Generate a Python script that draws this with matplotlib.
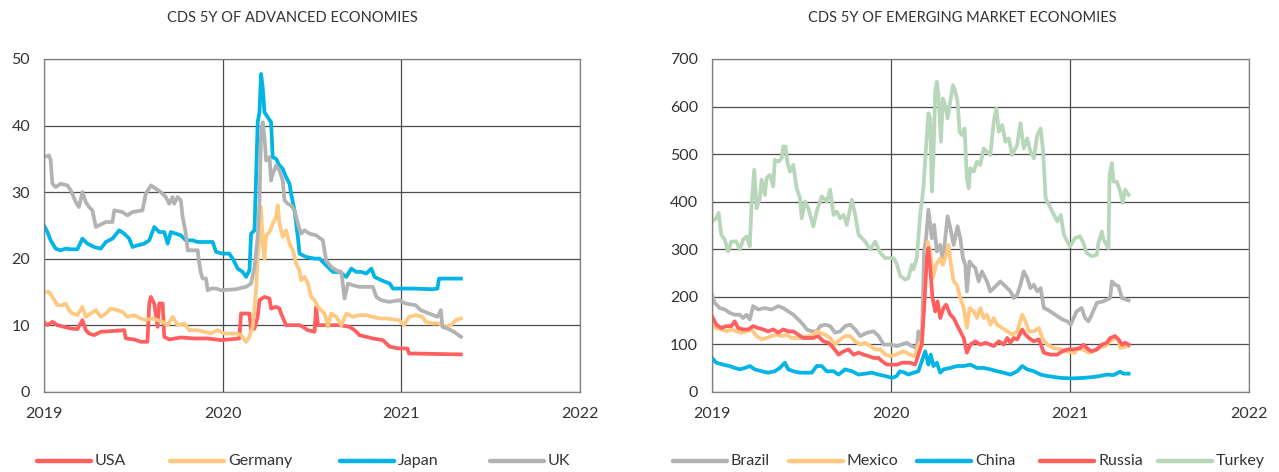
import matplotlib
matplotlib.use("Agg")
import matplotlib.pyplot as plt
from matplotlib.lines import Line2D

# ---- advanced economies (dates as decimal years) ----
usa_t = [2019.000, 2019.019, 2019.047, 2019.075, 2019.112, 2019.150, 2019.187, 2019.215, 2019.234, 2019.252,
         2019.280, 2019.318, 2019.374, 2019.449, 2019.458, 2019.505, 2019.542, 2019.579, 2019.589, 2019.598,
         2019.617, 2019.636, 2019.645, 2019.664, 2019.673, 2019.701, 2019.766, 2019.841, 2019.916, 2019.991,
         2020.093, 2020.103, 2020.150, 2020.159, 2020.178, 2020.196, 2020.206, 2020.234, 2020.262, 2020.271,
         2020.299, 2020.318, 2020.327, 2020.355, 2020.430, 2020.449, 2020.477, 2020.514, 2020.523, 2020.533,
         2020.579, 2020.654, 2020.710, 2020.738, 2020.766, 2020.841, 2020.897, 2020.935, 2020.987, 2021.034,
         2021.043, 2021.333]
usa_v = [10.5, 10, 10.5, 10, 9.75, 9.5, 9.4, 10.75, 9.25, 8.75,
         8.5, 9, 9.1, 9.25, 8, 7.85, 7.5, 7.5, 13.25, 14.25,
         13.25, 9.75, 13.25, 13.25, 8.25, 7.85, 8.15, 8, 8, 7.75,
         8, 11.75, 11.75, 9.25, 9.5, 11.25, 13.75, 14.25, 14, 12.5,
         12.75, 12.5, 11.75, 10, 10, 9.75, 9.25, 9, 12.75, 10,
         10, 10, 9.75, 9.25, 8.5, 8, 7.75, 6.75, 6.5, 6.5,
         5.75, 5.6]

ger_t = [2019.000, 2019.028, 2019.047, 2019.075, 2019.103, 2019.121, 2019.140, 2019.159, 2019.187, 2019.215,
         2019.234, 2019.262, 2019.290, 2019.318, 2019.346, 2019.374, 2019.411, 2019.439, 2019.467, 2019.505,
         2019.542, 2019.570, 2019.607, 2019.636, 2019.664, 2019.692, 2019.720, 2019.748, 2019.785, 2019.813,
         2019.860, 2019.897, 2019.935, 2019.972, 2020.009, 2020.037, 2020.075, 2020.103, 2020.131, 2020.150,
         2020.168, 2020.187, 2020.196, 2020.206, 2020.215, 2020.224, 2020.234, 2020.243, 2020.262, 2020.280,
         2020.299, 2020.308, 2020.318, 2020.336, 2020.355, 2020.374, 2020.393, 2020.411, 2020.430, 2020.439,
         2020.458, 2020.477, 2020.495, 2020.514, 2020.533, 2020.551, 2020.570, 2020.589, 2020.607, 2020.636,
         2020.664, 2020.692, 2020.729, 2020.766, 2020.804, 2020.841, 2020.879, 2020.916, 2020.987, 2021.015,
         2021.043, 2021.080, 2021.118, 2021.136, 2021.174, 2021.211, 2021.239, 2021.277, 2021.305, 2021.333]
ger_v = [15, 15, 14.25, 13, 13, 13.25, 12.25, 11.75, 11.5, 12.75,
         11.25, 11.75, 12.25, 11.25, 11.75, 12.5, 12.25, 12, 11.25, 11.5,
         11, 10.75, 11, 10.75, 10.5, 10, 11.25, 10, 10.25, 9.25,
         9.25, 9, 8.75, 9.25, 8.75, 8.75, 8.75, 8.5, 7.5, 8.25,
         9.75, 15.25, 20.25, 23.25, 27.75, 22.25, 20, 23.5, 24, 25.25,
         26.25, 28, 25.25, 23.25, 24.25, 22.25, 21.25, 19.25, 18.25, 16.75,
         17.25, 16.25, 14.25, 13.75, 12.75, 12.25, 11.75, 9.75, 11.75, 11.25,
         10, 11.75, 11.25, 11.5, 11.5, 11.25, 11, 11, 10.75, 10,
         11.25, 11.5, 11.25, 10.5, 10.25, 10.25, 9.75, 10, 10.75, 11]

jpn_t = [2019.000, 2019.019, 2019.037, 2019.065, 2019.093, 2019.121, 2019.150, 2019.187, 2019.215, 2019.243,
         2019.280, 2019.318, 2019.346, 2019.383, 2019.421, 2019.449, 2019.477, 2019.495, 2019.523, 2019.561,
         2019.589, 2019.617, 2019.645, 2019.673, 2019.692, 2019.710, 2019.738, 2019.766, 2019.794, 2019.832,
         2019.860, 2019.944, 2019.963, 2020.000, 2020.037, 2020.056, 2020.084, 2020.112, 2020.131, 2020.150,
         2020.159, 2020.178, 2020.187, 2020.196, 2020.206, 2020.215, 2020.224, 2020.234, 2020.252, 2020.271,
         2020.280, 2020.299, 2020.318, 2020.336, 2020.355, 2020.374, 2020.383, 2020.402, 2020.421, 2020.430,
         2020.467, 2020.514, 2020.542, 2020.579, 2020.617, 2020.654, 2020.692, 2020.720, 2020.748, 2020.776,
         2020.804, 2020.832, 2020.850, 2020.888, 2020.935, 2020.953, 2020.987, 2021.062, 2021.174, 2021.202,
         2021.211, 2021.333]
jpn_v = [25, 24, 22.75, 21.5, 21.25, 21.5, 21.4, 21.4, 23, 22.25,
         21.75, 21.5, 22.5, 23, 24.25, 23.75, 23, 21.75, 22, 22.25,
         22.75, 24.75, 24, 24, 22.25, 24, 23.75, 23.5, 22.75, 22.75,
         22.5, 22.5, 21, 20.75, 20.75, 20, 18.5, 18, 17.25, 18.25,
         23.75, 24.25, 32.25, 40.5, 42, 47.75, 45.75, 42, 41.25, 40.5,
         35.25, 35, 34, 33.5, 32.25, 31.25, 29.75, 27.25, 23.25, 20.75,
         20.25, 20, 20, 19, 18, 18, 17.25, 18.5, 18, 18,
         17.75, 18.5, 17.25, 16.75, 16.25, 15.5, 15.5, 15.5, 15.4, 15.5,
         17, 17]

uk_t = [2019.000, 2019.028, 2019.037, 2019.047, 2019.065, 2019.093, 2019.131, 2019.150, 2019.178, 2019.196,
        2019.215, 2019.234, 2019.252, 2019.271, 2019.290, 2019.327, 2019.346, 2019.383, 2019.393, 2019.439,
        2019.467, 2019.495, 2019.551, 2019.570, 2019.598, 2019.626, 2019.654, 2019.682, 2019.701, 2019.720,
        2019.729, 2019.748, 2019.766, 2019.776, 2019.794, 2019.804, 2019.860, 2019.869, 2019.879, 2019.888,
        2019.907, 2019.916, 2019.935, 2019.963, 2019.991, 2020.075, 2020.103, 2020.131, 2020.159, 2020.178,
        2020.196, 2020.206, 2020.215, 2020.224, 2020.234, 2020.243, 2020.262, 2020.271, 2020.280, 2020.299,
        2020.318, 2020.336, 2020.346, 2020.364, 2020.383, 2020.402, 2020.421, 2020.439, 2020.458, 2020.486,
        2020.523, 2020.561, 2020.579, 2020.607, 2020.636, 2020.664, 2020.682, 2020.701, 2020.729, 2020.766,
        2020.841, 2020.860, 2020.888, 2020.931, 2020.987, 2021.024, 2021.080, 2021.108, 2021.155, 2021.202,
        2021.221, 2021.230, 2021.258, 2021.295, 2021.333]
uk_v = [35.25, 35.5, 34.8, 31.25, 30.75, 31.25, 31, 30.25, 28.5, 27.75,
        30, 28.5, 27.75, 27.25, 24.75, 25.25, 25.5, 25.5, 27.25, 27,
        26.5, 27, 27.25, 29.75, 31, 30.5, 30, 29.25, 28.25, 29.25,
        28.25, 29.25, 28.75, 26.25, 23.75, 21.25, 21.25, 19.25, 17.75, 17,
        17, 15.25, 15.5, 15.5, 15.25, 15.4, 15.6, 15.75, 16.25, 18.75,
        23.25, 28.25, 39.25, 40.5, 38.25, 34.75, 35.25, 31.75, 32.75, 34,
        33.25, 31.75, 28.75, 28.25, 28, 27.25, 25.25, 23.75, 24.25, 23.75,
        23.5, 22.75, 19.75, 18.75, 18.25, 18, 14, 16.25, 16, 15.75,
        15.75, 14.25, 13.75, 13.5, 13.75, 13.25, 13, 12.25, 11.75, 11.25,
        12.25, 9.75, 9.5, 9, 8.25]

# ---- emerging market economies ----
bra_t = [2019.000, 2019.015, 2019.043, 2019.071, 2019.099, 2019.127, 2019.155, 2019.174, 2019.193, 2019.211,
         2019.230, 2019.258, 2019.295, 2019.333, 2019.370, 2019.398, 2019.426, 2019.454, 2019.482, 2019.510,
         2019.529, 2019.557, 2019.585, 2019.604, 2019.632, 2019.660, 2019.688, 2019.716, 2019.744, 2019.772,
         2019.800, 2019.828, 2019.865, 2019.903, 2019.931, 2019.959, 2019.996, 2020.034, 2020.088, 2020.116,
         2020.144, 2020.153, 2020.172, 2020.185, 2020.196, 2020.209, 2020.228, 2020.241, 2020.256, 2020.275,
         2020.290, 2020.303, 2020.316, 2020.331, 2020.350, 2020.372, 2020.387, 2020.402, 2020.415, 2020.424,
         2020.439, 2020.452, 2020.471, 2020.490, 2020.508, 2020.536, 2020.555, 2020.574, 2020.593, 2020.611,
         2020.630, 2020.649, 2020.667, 2020.686, 2020.705, 2020.723, 2020.742, 2020.761, 2020.779, 2020.798,
         2020.817, 2020.836, 2020.854, 2020.873, 2020.901, 2020.929, 2020.957, 2020.985, 2021.004, 2021.037,
         2021.065, 2021.084, 2021.103, 2021.121, 2021.150, 2021.187, 2021.224, 2021.234, 2021.252, 2021.271,
         2021.290, 2021.327]
bra_v = [204, 187, 176, 173, 166, 162, 162, 155, 162, 152,
         180, 173, 176, 173, 180, 176, 169, 162, 152, 141,
         131, 127, 127, 138, 141, 138, 124, 127, 138, 141,
         131, 117, 124, 127, 117, 99, 99, 96, 103, 96,
         92, 127, 106, 295, 323, 383, 323, 351, 295, 309,
         274, 323, 369, 345, 309, 348, 323, 281, 267, 211,
         274, 267, 260, 232, 253, 232, 211, 218, 225, 232,
         225, 218, 211, 197, 204, 225, 253, 239, 218, 225,
         211, 218, 176, 173, 166, 159, 152, 148, 141, 169,
         176, 155, 148, 162, 187, 190, 197, 232, 225, 222,
         197, 192]

mex_t = [2019.000, 2019.024, 2019.052, 2019.080, 2019.108, 2019.136, 2019.164, 2019.193, 2019.221, 2019.249,
         2019.277, 2019.305, 2019.333, 2019.361, 2019.389, 2019.417, 2019.445, 2019.473, 2019.501, 2019.529,
         2019.557, 2019.585, 2019.604, 2019.632, 2019.660, 2019.688, 2019.716, 2019.744, 2019.772, 2019.800,
         2019.828, 2019.856, 2019.884, 2019.912, 2019.940, 2019.968, 2019.996, 2020.024, 2020.052, 2020.069,
         2020.107, 2020.135, 2020.153, 2020.172, 2020.191, 2020.204, 2020.219, 2020.234, 2020.252, 2020.275,
         2020.290, 2020.308, 2020.321, 2020.335, 2020.350, 2020.368, 2020.387, 2020.406, 2020.424, 2020.439,
         2020.462, 2020.480, 2020.499, 2020.518, 2020.536, 2020.555, 2020.574, 2020.593, 2020.621, 2020.649,
         2020.677, 2020.705, 2020.733, 2020.751, 2020.770, 2020.798, 2020.826, 2020.845, 2020.873, 2020.910,
         2020.948, 2020.976, 2021.028, 2021.037, 2021.075, 2021.103, 2021.131, 2021.159, 2021.196, 2021.224,
         2021.252, 2021.271, 2021.280, 2021.327]
mex_v = [138, 134, 131, 127, 131, 127, 124, 127, 131, 117,
         110, 113, 117, 120, 117, 120, 113, 113, 113, 117,
         117, 127, 124, 120, 113, 99, 110, 117, 117, 106,
         99, 103, 96, 89, 89, 78, 75, 78, 82, 85,
         78, 75, 99, 106, 225, 316, 295, 239, 267, 281,
         267, 288, 309, 267, 232, 225, 197, 176, 134, 176,
         169, 155, 176, 155, 162, 141, 155, 141, 134, 127,
         120, 127, 162, 148, 127, 127, 134, 113, 99, 92,
         89, 85, 82, 89, 89, 82, 85, 92, 96, 106,
         113, 110, 92, 96]

chn_t = [2019.000, 2019.024, 2019.062, 2019.099, 2019.127, 2019.155, 2019.183, 2019.211, 2019.239, 2019.277,
         2019.314, 2019.351, 2019.379, 2019.407, 2019.426, 2019.454, 2019.492, 2019.557, 2019.585, 2019.613,
         2019.641, 2019.679, 2019.707, 2019.744, 2019.781, 2019.819, 2019.893, 2019.931, 2019.968, 2020.006,
         2020.032, 2020.050, 2020.079, 2020.097, 2020.125, 2020.153, 2020.178, 2020.191, 2020.200, 2020.209,
         2020.222, 2020.237, 2020.256, 2020.275, 2020.293, 2020.331, 2020.368, 2020.406, 2020.443, 2020.480,
         2020.518, 2020.555, 2020.593, 2020.630, 2020.667, 2020.705, 2020.733, 2020.761, 2020.798, 2020.836,
         2020.873, 2020.948, 2021.004, 2021.075, 2021.131, 2021.168, 2021.206, 2021.243, 2021.280, 2021.299,
         2021.327]
chn_v = [71, 61, 57, 54, 50, 47, 50, 54, 47, 43,
         40, 43, 50, 61, 47, 43, 40, 40, 54, 54,
         43, 43, 36, 47, 43, 36, 40, 36, 33, 29,
         33, 43, 40, 36, 40, 43, 71, 85, 71, 57,
         78, 54, 61, 40, 47, 50, 54, 54, 57, 50,
         50, 47, 43, 40, 36, 43, 54, 47, 43, 36,
         33, 29, 28, 29, 31, 33, 36, 35, 42, 38,
         38]

rus_t = [2019.000, 2019.024, 2019.052, 2019.080, 2019.108, 2019.127, 2019.146, 2019.174, 2019.202, 2019.230,
         2019.258, 2019.286, 2019.314, 2019.342, 2019.370, 2019.398, 2019.426, 2019.454, 2019.482, 2019.510,
         2019.538, 2019.566, 2019.594, 2019.622, 2019.650, 2019.679, 2019.707, 2019.735, 2019.763, 2019.791,
         2019.819, 2019.847, 2019.875, 2019.903, 2019.931, 2019.950, 2019.978, 2020.006, 2020.034, 2020.062,
         2020.107, 2020.135, 2020.159, 2020.172, 2020.187, 2020.200, 2020.209, 2020.219, 2020.232, 2020.247,
         2020.260, 2020.275, 2020.293, 2020.308, 2020.331, 2020.350, 2020.368, 2020.387, 2020.406, 2020.424,
         2020.443, 2020.471, 2020.499, 2020.527, 2020.555, 2020.574, 2020.602, 2020.630, 2020.649, 2020.667,
         2020.686, 2020.705, 2020.733, 2020.751, 2020.770, 2020.798, 2020.826, 2020.854, 2020.892, 2020.929,
         2020.957, 2020.985, 2021.019, 2021.056, 2021.075, 2021.103, 2021.121, 2021.150, 2021.178, 2021.206,
         2021.224, 2021.252, 2021.271, 2021.290, 2021.308, 2021.327]
rus_v = [159, 141, 134, 138, 138, 148, 134, 131, 131, 138,
         134, 131, 127, 131, 124, 131, 127, 127, 120, 113,
         113, 113, 117, 106, 103, 92, 78, 85, 89, 78,
         82, 78, 75, 71, 71, 64, 57, 57, 57, 61,
         61, 57, 85, 99, 190, 281, 302, 260, 197, 169,
         190, 155, 176, 183, 162, 155, 141, 127, 113, 82,
         99, 106, 99, 103, 99, 96, 106, 99, 113, 103,
         113, 110, 131, 120, 113, 106, 110, 82, 78, 78,
         85, 89, 89, 92, 99, 89, 85, 89, 99, 103,
         113, 117, 110, 99, 103, 99]

tur_t = [2019.000, 2019.024, 2019.037, 2019.052, 2019.071, 2019.090, 2019.108, 2019.136, 2019.155, 2019.174,
         2019.193, 2019.211, 2019.221, 2019.236, 2019.249, 2019.267, 2019.277, 2019.295, 2019.305, 2019.323,
         2019.342, 2019.351, 2019.370, 2019.389, 2019.398, 2019.411, 2019.422, 2019.436, 2019.454, 2019.473,
         2019.492, 2019.501, 2019.520, 2019.538, 2019.566, 2019.585, 2019.613, 2019.641, 2019.660, 2019.679,
         2019.697, 2019.716, 2019.735, 2019.753, 2019.763, 2019.781, 2019.800, 2019.819, 2019.837, 2019.856,
         2019.884, 2019.912, 2019.940, 2019.968, 2020.015, 2020.034, 2020.052, 2020.080, 2020.097, 2020.116,
         2020.125, 2020.144, 2020.163, 2020.181, 2020.191, 2020.209, 2020.219, 2020.228, 2020.237, 2020.247,
         2020.256, 2020.265, 2020.279, 2020.290, 2020.303, 2020.316, 2020.331, 2020.346, 2020.359, 2020.372,
         2020.383, 2020.396, 2020.411, 2020.424, 2020.434, 2020.443, 2020.462, 2020.480, 2020.499, 2020.518,
         2020.536, 2020.555, 2020.574, 2020.589, 2020.602, 2020.621, 2020.639, 2020.658, 2020.677, 2020.705,
         2020.723, 2020.742, 2020.761, 2020.779, 2020.798, 2020.817, 2020.836, 2020.850, 2020.864, 2020.892,
         2020.910, 2020.929, 2020.948, 2020.966, 2020.985, 2021.000, 2021.028, 2021.056, 2021.075, 2021.093,
         2021.121, 2021.150, 2021.159, 2021.178, 2021.187, 2021.215, 2021.221, 2021.234, 2021.243, 2021.262,
         2021.280, 2021.295, 2021.308, 2021.327]
tur_v = [358, 365, 376, 330, 320, 295, 316, 316, 299, 320,
         327, 306, 393, 467, 386, 407, 446, 414, 449, 456,
         432, 488, 484, 491, 516, 516, 481, 463, 477, 428,
         407, 365, 400, 386, 348, 379, 411, 400, 425, 372,
         379, 365, 372, 351, 369, 404, 372, 330, 323, 316,
         299, 316, 292, 281, 281, 267, 243, 236, 239, 267,
         257, 281, 372, 428, 488, 586, 575, 421, 491, 631,
         652, 624, 526, 617, 603, 575, 610, 645, 631, 610,
         547, 540, 554, 449, 428, 470, 463, 484, 477, 512,
         505, 498, 568, 596, 547, 561, 526, 533, 498, 519,
         565, 512, 533, 505, 491, 540, 554, 505, 407, 386,
         372, 358, 372, 330, 316, 306, 323, 327, 313, 292,
         285, 288, 313, 337, 320, 302, 456, 481, 442, 442,
         421, 397, 425, 414]

years = [2019, 2020, 2021, 2022]

plt.rcParams['font.family'] = ['Lato', 'DejaVu Sans']
txt_color = '#333333'
grid_color = '#4d4d4d'
RED, ORANGE, CYAN, GREY, GREEN = '#ff5f5f', '#ffc982', '#00b5e6', '#b3b3b3', '#b8d6ba'
W, H = 1279, 472

fig = plt.figure(figsize=(W / 100, H / 100), dpi=100)
ax1 = fig.add_axes([44 / W, 80.3 / H, 536 / W, 332.7 / H])
ax2 = fig.add_axes([712 / W, 80.3 / H, 537 / W, 332.7 / H])

lw = 2.7
ax1.plot(usa_t, usa_v, color=RED, lw=lw)
ax1.plot(ger_t, ger_v, color=ORANGE, lw=lw)
ax1.plot(jpn_t, jpn_v, color=CYAN, lw=lw)
ax1.plot(uk_t, uk_v, color=GREY, lw=lw)

ax2.plot(bra_t, bra_v, color=GREY, lw=lw)
ax2.plot(mex_t, mex_v, color=ORANGE, lw=lw)
ax2.plot(chn_t, chn_v, color=CYAN, lw=lw)
ax2.plot(rus_t, rus_v, color=RED, lw=lw)
ax2.plot(tur_t, tur_v, color=GREEN, lw=lw)

for ax, ymax, ystep in [(ax1, 50, 10), (ax2, 700, 100)]:
    ax.set_xlim(2019, 2022)
    ax.set_ylim(0, ymax)
    ax.set_xticks(years)
    ax.set_xticklabels([str(y) for y in years])
    ax.set_yticks(range(0, ymax + 1, ystep))
    ax.grid(True, color=grid_color, lw=0.9)
    ax.set_axisbelow(True)
    ax.tick_params(length=0, labelsize=11.5, colors=txt_color)
    ax.tick_params(axis='x', pad=11)
    ax.tick_params(axis='y', pad=10)
    for s in ax.spines.values():
        s.set_color('#7f7f7f')
        s.set_linewidth(0.9)

fig.text(292 / W, 1 - 18 / H, 'CDS 5Y OF ADVANCED ECONOMIES', ha='center', va='center',
         fontsize=10.5, color=txt_color)
fig.text(962 / W, 1 - 18 / H, 'CDS 5Y OF EMERGING MARKET ECONOMIES', ha='center', va='center',
         fontsize=10.5, color=txt_color)

# legends: entries placed by hand along the bottom
legend_items = [('USA', RED, 37), ('Germany', ORANGE, 170), ('Japan', CYAN, 340), ('UK', GREY, 490),
                ('Brazil', GREY, 673), ('Mexico', ORANGE, 789), ('China', CYAN, 917),
                ('Russia', RED, 1040), ('Turkey', GREEN, 1158)]
leg_y = 1 - 461 / H
for name, col, x0 in legend_items:
    fig.add_artist(Line2D([x0 / W, (x0 + 54) / W], [leg_y, leg_y], color=col, lw=3.2,
                          solid_capstyle='round', transform=fig.transFigure))
    fig.text((x0 + 58) / W, leg_y, name, ha='left', va='center', fontsize=11.5, color=txt_color)

fig.savefig('out.png', dpi=100)
